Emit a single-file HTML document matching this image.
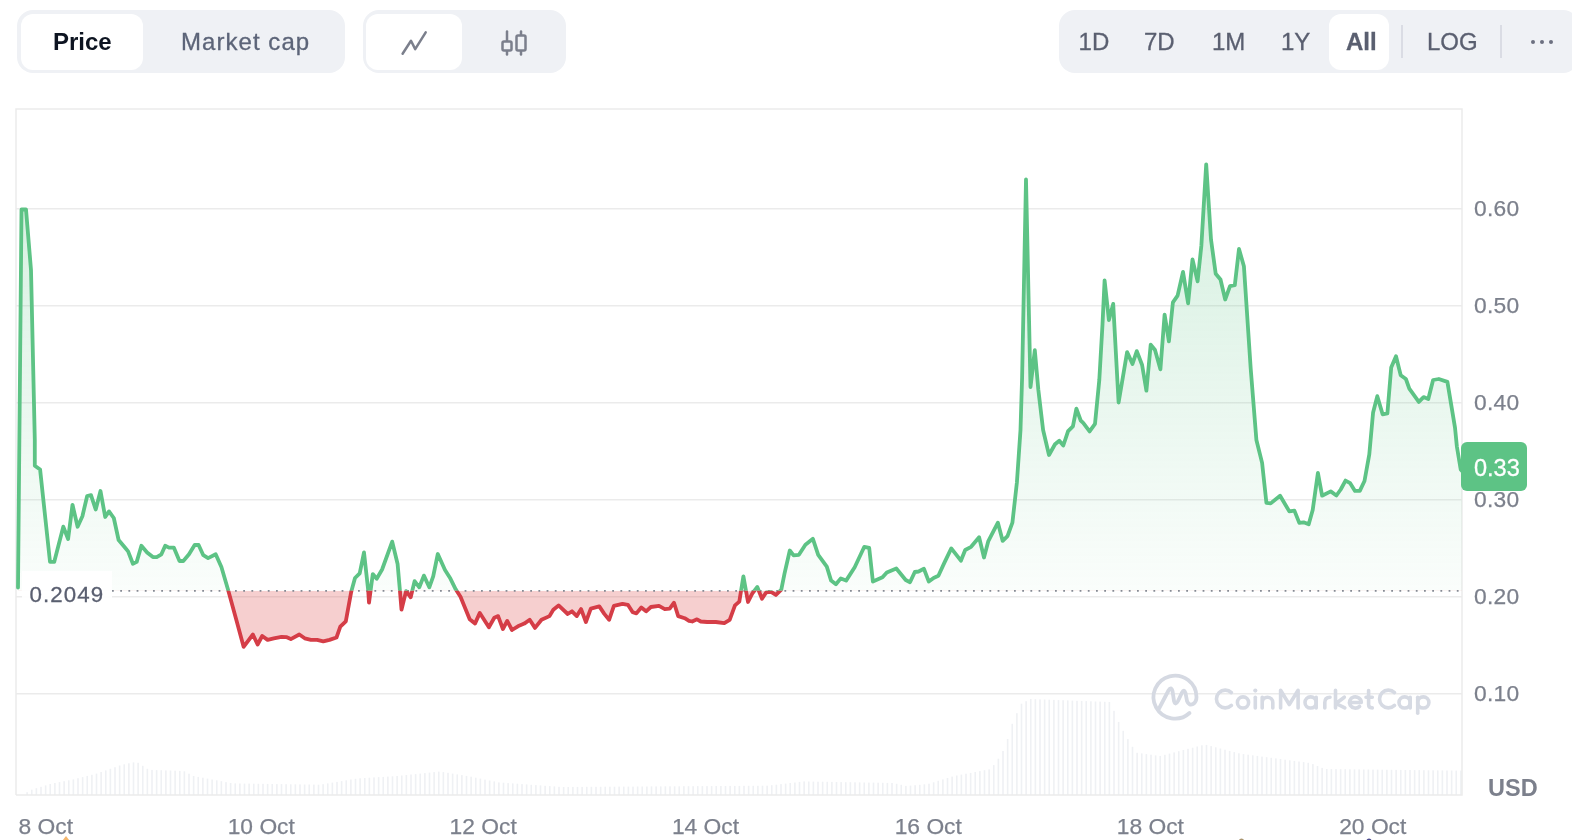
<!DOCTYPE html>
<html><head><meta charset="utf-8">
<style>
*{margin:0;padding:0;box-sizing:border-box}
html,body{width:1572px;height:840px;overflow:hidden;background:#fff;font-family:"Liberation Sans",sans-serif}
.pill{position:absolute;top:10px;height:63px;background:#eff1f5;border-radius:16px}
.btn{position:absolute;top:4px;height:56px;background:#fff;border-radius:12px}
.t{position:absolute;font-size:24px;line-height:1;color:#5c6478;white-space:nowrap;-webkit-text-stroke:0.3px #5c6478}
svg{position:absolute;left:0;top:0;will-change:transform}
.t{will-change:transform}
</style></head><body>
<div class="pill" style="left:17px;width:328px">
  <div class="btn" style="left:4px;width:122px"></div>
</div>
<div class="t" style="left:53px;top:30px;font-weight:bold;color:#0d1421;-webkit-text-stroke:0">Price</div>
<div class="t" style="left:181px;top:30px;letter-spacing:1.05px">Market cap</div>
<div class="pill" style="left:363px;width:203px">
  <div class="btn" style="left:3px;width:96px"></div>
</div>
<div class="pill" style="left:1059px;width:520px"></div>
<div class="btn" style="left:1329px;top:14px;width:60px"></div>
<svg width="1572" height="840" viewBox="0 0 1572 840">
<defs>
<linearGradient id="gg" gradientUnits="userSpaceOnUse" x1="0" y1="165" x2="0" y2="590.8">
<stop offset="0" stop-color="#5dc385" stop-opacity="0.26"/>
<stop offset="1" stop-color="#5dc385" stop-opacity="0.03"/>
</linearGradient>
<clipPath id="above"><rect x="0" y="0" width="1572" height="590.8"/></clipPath>
<clipPath id="below"><rect x="0" y="590.8" width="1572" height="300"/></clipPath>
</defs>
<!-- toolbar icons -->
<g fill="none" stroke="#7b7f8c" stroke-width="2.5" stroke-linecap="round" stroke-linejoin="round">
<polyline points="402.6,53.7 411,40.7 415.2,49.1 425.7,32.3"/>
<line x1="507" y1="31.5" x2="507" y2="54.5"/><rect x="502.5" y="41.5" width="9" height="9" rx="1.5" fill="#eff1f5"/>
<line x1="521" y1="31.5" x2="521" y2="54.5"/><rect x="516.5" y="35.5" width="9" height="15" rx="1.5" fill="#eff1f5"/>
</g>
<g font-size="24" fill="#5a5f70" stroke="#5a5f70" stroke-width="0.3">
<text x="1078.6" y="50">1D</text>
<text x="1144" y="50">7D</text>
<text x="1212" y="50">1M</text>
<text x="1281" y="50">1Y</text>
<text x="1346" y="50" font-weight="bold">All</text>
<text x="1427" y="50">LOG</text>
</g>
<g stroke="#d3d5de" stroke-width="1.5"><line x1="1402" y1="25" x2="1402" y2="58"/><line x1="1501" y1="25" x2="1501" y2="58"/></g>
<g fill="#6c7080"><circle cx="1533" cy="42" r="2"/><circle cx="1542" cy="42" r="2"/><circle cx="1551" cy="42" r="2"/></g>
<!-- volume -->
<g fill="#eff1f4">
<rect x="26.32" y="792.2" width="1.6" height="2.8"/>
<rect x="30.95" y="789.7" width="1.6" height="5.3"/>
<rect x="35.58" y="788.2" width="1.6" height="6.8"/>
<rect x="40.20" y="786.8" width="1.6" height="8.2"/>
<rect x="44.83" y="785.4" width="1.6" height="9.6"/>
<rect x="49.45" y="784.0" width="1.6" height="11.0"/>
<rect x="54.08" y="783.0" width="1.6" height="12.0"/>
<rect x="58.70" y="782.1" width="1.6" height="12.9"/>
<rect x="63.33" y="781.2" width="1.6" height="13.8"/>
<rect x="67.95" y="780.3" width="1.6" height="14.7"/>
<rect x="72.58" y="779.4" width="1.6" height="15.6"/>
<rect x="77.20" y="778.2" width="1.6" height="16.8"/>
<rect x="81.83" y="777.1" width="1.6" height="17.9"/>
<rect x="86.45" y="775.9" width="1.6" height="19.1"/>
<rect x="91.08" y="774.8" width="1.6" height="20.2"/>
<rect x="95.70" y="773.6" width="1.6" height="21.4"/>
<rect x="100.33" y="772.0" width="1.6" height="23.0"/>
<rect x="104.95" y="770.4" width="1.6" height="24.6"/>
<rect x="109.58" y="768.8" width="1.6" height="26.2"/>
<rect x="114.20" y="767.2" width="1.6" height="27.8"/>
<rect x="118.83" y="765.5" width="1.6" height="29.5"/>
<rect x="123.45" y="764.3" width="1.6" height="30.7"/>
<rect x="128.07" y="763.3" width="1.6" height="31.7"/>
<rect x="132.70" y="762.4" width="1.6" height="32.6"/>
<rect x="137.32" y="762.8" width="1.6" height="32.2"/>
<rect x="141.95" y="765.8" width="1.6" height="29.2"/>
<rect x="146.57" y="768.8" width="1.6" height="26.2"/>
<rect x="151.20" y="769.9" width="1.6" height="25.1"/>
<rect x="155.82" y="770.1" width="1.6" height="24.9"/>
<rect x="160.45" y="770.2" width="1.6" height="24.8"/>
<rect x="165.07" y="770.4" width="1.6" height="24.6"/>
<rect x="169.70" y="770.5" width="1.6" height="24.5"/>
<rect x="174.32" y="770.7" width="1.6" height="24.3"/>
<rect x="178.95" y="770.9" width="1.6" height="24.1"/>
<rect x="183.57" y="771.3" width="1.6" height="23.7"/>
<rect x="188.20" y="773.7" width="1.6" height="21.3"/>
<rect x="192.82" y="776.0" width="1.6" height="19.0"/>
<rect x="197.45" y="776.9" width="1.6" height="18.1"/>
<rect x="202.07" y="777.7" width="1.6" height="17.3"/>
<rect x="206.70" y="778.6" width="1.6" height="16.4"/>
<rect x="211.32" y="779.5" width="1.6" height="15.5"/>
<rect x="215.95" y="780.3" width="1.6" height="14.7"/>
<rect x="220.57" y="781.2" width="1.6" height="13.8"/>
<rect x="225.20" y="782.1" width="1.6" height="12.9"/>
<rect x="229.82" y="783.0" width="1.6" height="12.0"/>
<rect x="234.45" y="783.4" width="1.6" height="11.6"/>
<rect x="239.07" y="783.5" width="1.6" height="11.5"/>
<rect x="243.70" y="783.6" width="1.6" height="11.4"/>
<rect x="248.32" y="783.6" width="1.6" height="11.4"/>
<rect x="252.95" y="783.7" width="1.6" height="11.3"/>
<rect x="257.57" y="783.8" width="1.6" height="11.2"/>
<rect x="262.20" y="783.8" width="1.6" height="11.2"/>
<rect x="266.82" y="783.9" width="1.6" height="11.1"/>
<rect x="271.45" y="784.0" width="1.6" height="11.0"/>
<rect x="276.07" y="784.1" width="1.6" height="10.9"/>
<rect x="280.70" y="784.1" width="1.6" height="10.9"/>
<rect x="285.32" y="784.2" width="1.6" height="10.8"/>
<rect x="289.95" y="784.3" width="1.6" height="10.7"/>
<rect x="294.57" y="784.3" width="1.6" height="10.7"/>
<rect x="299.20" y="784.4" width="1.6" height="10.6"/>
<rect x="303.82" y="784.5" width="1.6" height="10.5"/>
<rect x="308.45" y="784.5" width="1.6" height="10.5"/>
<rect x="313.07" y="784.6" width="1.6" height="10.4"/>
<rect x="317.70" y="784.7" width="1.6" height="10.3"/>
<rect x="322.32" y="784.2" width="1.6" height="10.8"/>
<rect x="326.95" y="783.4" width="1.6" height="11.6"/>
<rect x="331.57" y="782.6" width="1.6" height="12.4"/>
<rect x="336.20" y="781.9" width="1.6" height="13.1"/>
<rect x="340.82" y="781.1" width="1.6" height="13.9"/>
<rect x="345.45" y="780.3" width="1.6" height="14.7"/>
<rect x="350.07" y="779.5" width="1.6" height="15.5"/>
<rect x="354.70" y="778.8" width="1.6" height="16.2"/>
<rect x="359.32" y="778.3" width="1.6" height="16.7"/>
<rect x="363.95" y="778.0" width="1.6" height="17.0"/>
<rect x="368.57" y="777.7" width="1.6" height="17.3"/>
<rect x="373.20" y="777.4" width="1.6" height="17.6"/>
<rect x="377.82" y="777.1" width="1.6" height="17.9"/>
<rect x="382.45" y="776.9" width="1.6" height="18.1"/>
<rect x="387.07" y="776.6" width="1.6" height="18.4"/>
<rect x="391.70" y="776.3" width="1.6" height="18.7"/>
<rect x="396.32" y="776.0" width="1.6" height="19.0"/>
<rect x="400.95" y="775.5" width="1.6" height="19.5"/>
<rect x="405.57" y="775.0" width="1.6" height="20.0"/>
<rect x="410.20" y="774.5" width="1.6" height="20.5"/>
<rect x="414.82" y="774.1" width="1.6" height="20.9"/>
<rect x="419.45" y="773.6" width="1.6" height="21.4"/>
<rect x="424.07" y="773.1" width="1.6" height="21.9"/>
<rect x="428.70" y="772.6" width="1.6" height="22.4"/>
<rect x="433.32" y="772.1" width="1.6" height="22.9"/>
<rect x="437.95" y="771.6" width="1.6" height="23.4"/>
<rect x="442.57" y="772.1" width="1.6" height="22.9"/>
<rect x="447.20" y="772.8" width="1.6" height="22.2"/>
<rect x="451.82" y="773.6" width="1.6" height="21.4"/>
<rect x="456.45" y="774.4" width="1.6" height="20.6"/>
<rect x="461.07" y="775.1" width="1.6" height="19.9"/>
<rect x="465.70" y="775.9" width="1.6" height="19.1"/>
<rect x="470.32" y="776.7" width="1.6" height="18.3"/>
<rect x="474.95" y="777.7" width="1.6" height="17.3"/>
<rect x="479.57" y="778.6" width="1.6" height="16.4"/>
<rect x="484.20" y="779.6" width="1.6" height="15.4"/>
<rect x="488.82" y="780.5" width="1.6" height="14.5"/>
<rect x="493.45" y="781.4" width="1.6" height="13.6"/>
<rect x="498.07" y="782.4" width="1.6" height="12.6"/>
<rect x="502.70" y="782.7" width="1.6" height="12.3"/>
<rect x="507.32" y="783.1" width="1.6" height="11.9"/>
<rect x="511.95" y="783.4" width="1.6" height="11.6"/>
<rect x="516.58" y="783.7" width="1.6" height="11.3"/>
<rect x="521.20" y="784.1" width="1.6" height="10.9"/>
<rect x="525.83" y="784.4" width="1.6" height="10.6"/>
<rect x="530.45" y="784.8" width="1.6" height="10.2"/>
<rect x="535.08" y="785.1" width="1.6" height="9.9"/>
<rect x="539.70" y="785.4" width="1.6" height="9.6"/>
<rect x="544.33" y="785.8" width="1.6" height="9.2"/>
<rect x="548.95" y="786.1" width="1.6" height="8.9"/>
<rect x="553.58" y="786.4" width="1.6" height="8.6"/>
<rect x="558.20" y="786.8" width="1.6" height="8.2"/>
<rect x="562.83" y="787.0" width="1.6" height="8.0"/>
<rect x="567.45" y="787.0" width="1.6" height="8.0"/>
<rect x="572.08" y="786.9" width="1.6" height="8.1"/>
<rect x="576.70" y="786.9" width="1.6" height="8.1"/>
<rect x="581.33" y="786.9" width="1.6" height="8.1"/>
<rect x="585.95" y="786.8" width="1.6" height="8.2"/>
<rect x="590.58" y="786.8" width="1.6" height="8.2"/>
<rect x="595.20" y="786.8" width="1.6" height="8.2"/>
<rect x="599.83" y="786.8" width="1.6" height="8.2"/>
<rect x="604.45" y="786.7" width="1.6" height="8.3"/>
<rect x="609.08" y="786.7" width="1.6" height="8.3"/>
<rect x="613.70" y="786.7" width="1.6" height="8.3"/>
<rect x="618.33" y="786.6" width="1.6" height="8.4"/>
<rect x="622.95" y="786.6" width="1.6" height="8.4"/>
<rect x="627.58" y="786.6" width="1.6" height="8.4"/>
<rect x="632.20" y="786.6" width="1.6" height="8.4"/>
<rect x="636.83" y="786.5" width="1.6" height="8.5"/>
<rect x="641.45" y="786.5" width="1.6" height="8.5"/>
<rect x="646.08" y="786.5" width="1.6" height="8.5"/>
<rect x="650.70" y="786.4" width="1.6" height="8.6"/>
<rect x="655.33" y="786.4" width="1.6" height="8.6"/>
<rect x="659.95" y="786.4" width="1.6" height="8.6"/>
<rect x="664.58" y="786.3" width="1.6" height="8.7"/>
<rect x="669.20" y="786.3" width="1.6" height="8.7"/>
<rect x="673.83" y="786.3" width="1.6" height="8.7"/>
<rect x="678.45" y="786.3" width="1.6" height="8.7"/>
<rect x="683.08" y="786.2" width="1.6" height="8.8"/>
<rect x="687.70" y="786.2" width="1.6" height="8.8"/>
<rect x="692.33" y="786.2" width="1.6" height="8.8"/>
<rect x="696.95" y="786.1" width="1.6" height="8.9"/>
<rect x="701.58" y="786.1" width="1.6" height="8.9"/>
<rect x="706.20" y="786.1" width="1.6" height="8.9"/>
<rect x="710.83" y="786.1" width="1.6" height="8.9"/>
<rect x="715.45" y="786.0" width="1.6" height="9.0"/>
<rect x="720.08" y="786.0" width="1.6" height="9.0"/>
<rect x="724.70" y="786.0" width="1.6" height="9.0"/>
<rect x="729.33" y="785.9" width="1.6" height="9.1"/>
<rect x="733.95" y="785.9" width="1.6" height="9.1"/>
<rect x="738.58" y="785.9" width="1.6" height="9.1"/>
<rect x="743.20" y="785.8" width="1.6" height="9.2"/>
<rect x="747.83" y="785.8" width="1.6" height="9.2"/>
<rect x="752.45" y="785.8" width="1.6" height="9.2"/>
<rect x="757.08" y="785.8" width="1.6" height="9.2"/>
<rect x="761.70" y="785.7" width="1.6" height="9.3"/>
<rect x="766.33" y="785.7" width="1.6" height="9.3"/>
<rect x="770.95" y="785.2" width="1.6" height="9.8"/>
<rect x="775.58" y="784.7" width="1.6" height="10.3"/>
<rect x="780.20" y="784.1" width="1.6" height="10.9"/>
<rect x="784.83" y="783.6" width="1.6" height="11.4"/>
<rect x="789.45" y="783.0" width="1.6" height="12.0"/>
<rect x="794.08" y="782.5" width="1.6" height="12.5"/>
<rect x="798.70" y="781.9" width="1.6" height="13.1"/>
<rect x="803.33" y="781.4" width="1.6" height="13.6"/>
<rect x="807.95" y="781.5" width="1.6" height="13.5"/>
<rect x="812.58" y="781.6" width="1.6" height="13.4"/>
<rect x="817.20" y="781.7" width="1.6" height="13.3"/>
<rect x="821.83" y="781.7" width="1.6" height="13.3"/>
<rect x="826.45" y="781.8" width="1.6" height="13.2"/>
<rect x="831.08" y="781.9" width="1.6" height="13.1"/>
<rect x="835.70" y="782.0" width="1.6" height="13.0"/>
<rect x="840.33" y="782.1" width="1.6" height="12.9"/>
<rect x="844.95" y="782.2" width="1.6" height="12.8"/>
<rect x="849.58" y="782.2" width="1.6" height="12.8"/>
<rect x="854.20" y="782.3" width="1.6" height="12.7"/>
<rect x="858.83" y="782.4" width="1.6" height="12.6"/>
<rect x="863.45" y="782.5" width="1.6" height="12.5"/>
<rect x="868.08" y="782.6" width="1.6" height="12.4"/>
<rect x="872.70" y="782.6" width="1.6" height="12.4"/>
<rect x="877.33" y="782.7" width="1.6" height="12.3"/>
<rect x="881.95" y="782.8" width="1.6" height="12.2"/>
<rect x="886.58" y="782.9" width="1.6" height="12.1"/>
<rect x="891.20" y="783.0" width="1.6" height="12.0"/>
<rect x="895.83" y="783.8" width="1.6" height="11.2"/>
<rect x="900.45" y="784.8" width="1.6" height="10.2"/>
<rect x="905.08" y="785.9" width="1.6" height="9.1"/>
<rect x="909.70" y="785.6" width="1.6" height="9.4"/>
<rect x="914.33" y="785.2" width="1.6" height="9.8"/>
<rect x="918.95" y="784.8" width="1.6" height="10.2"/>
<rect x="923.58" y="784.3" width="1.6" height="10.7"/>
<rect x="928.20" y="783.7" width="1.6" height="11.3"/>
<rect x="932.83" y="782.3" width="1.6" height="12.7"/>
<rect x="937.45" y="780.8" width="1.6" height="14.2"/>
<rect x="942.08" y="779.4" width="1.6" height="15.6"/>
<rect x="946.70" y="778.0" width="1.6" height="17.0"/>
<rect x="951.33" y="776.6" width="1.6" height="18.4"/>
<rect x="955.95" y="775.5" width="1.6" height="19.5"/>
<rect x="960.58" y="774.6" width="1.6" height="20.4"/>
<rect x="965.20" y="773.7" width="1.6" height="21.3"/>
<rect x="969.83" y="772.9" width="1.6" height="22.1"/>
<rect x="974.45" y="772.0" width="1.6" height="23.0"/>
<rect x="979.08" y="771.1" width="1.6" height="23.9"/>
<rect x="983.70" y="770.2" width="1.6" height="24.8"/>
<rect x="988.33" y="769.4" width="1.6" height="25.6"/>
<rect x="992.95" y="765.1" width="1.6" height="29.9"/>
<rect x="997.58" y="758.7" width="1.6" height="36.3"/>
<rect x="1002.20" y="751.0" width="1.6" height="44.0"/>
<rect x="1006.83" y="739.0" width="1.6" height="56.0"/>
<rect x="1011.45" y="723.8" width="1.6" height="71.2"/>
<rect x="1016.08" y="713.2" width="1.6" height="81.8"/>
<rect x="1020.70" y="703.7" width="1.6" height="91.3"/>
<rect x="1025.33" y="701.2" width="1.6" height="93.8"/>
<rect x="1029.95" y="699.0" width="1.6" height="96.0"/>
<rect x="1034.58" y="699.2" width="1.6" height="95.8"/>
<rect x="1039.20" y="699.4" width="1.6" height="95.6"/>
<rect x="1043.83" y="699.5" width="1.6" height="95.5"/>
<rect x="1048.45" y="699.7" width="1.6" height="95.3"/>
<rect x="1053.08" y="699.9" width="1.6" height="95.1"/>
<rect x="1057.70" y="700.1" width="1.6" height="94.9"/>
<rect x="1062.33" y="700.2" width="1.6" height="94.8"/>
<rect x="1066.95" y="700.4" width="1.6" height="94.6"/>
<rect x="1071.58" y="700.6" width="1.6" height="94.4"/>
<rect x="1076.20" y="700.8" width="1.6" height="94.2"/>
<rect x="1080.83" y="700.9" width="1.6" height="94.1"/>
<rect x="1085.45" y="701.1" width="1.6" height="93.9"/>
<rect x="1090.08" y="701.3" width="1.6" height="93.7"/>
<rect x="1094.70" y="701.5" width="1.6" height="93.5"/>
<rect x="1099.33" y="701.6" width="1.6" height="93.4"/>
<rect x="1103.95" y="701.8" width="1.6" height="93.2"/>
<rect x="1108.58" y="702.0" width="1.6" height="93.0"/>
<rect x="1113.20" y="710.8" width="1.6" height="84.2"/>
<rect x="1117.83" y="721.9" width="1.6" height="73.1"/>
<rect x="1122.45" y="730.8" width="1.6" height="64.2"/>
<rect x="1127.08" y="739.1" width="1.6" height="55.9"/>
<rect x="1131.70" y="746.8" width="1.6" height="48.2"/>
<rect x="1136.33" y="752.8" width="1.6" height="42.2"/>
<rect x="1140.95" y="753.4" width="1.6" height="41.6"/>
<rect x="1145.58" y="754.1" width="1.6" height="40.9"/>
<rect x="1150.20" y="754.7" width="1.6" height="40.3"/>
<rect x="1154.83" y="755.4" width="1.6" height="39.6"/>
<rect x="1159.45" y="755.9" width="1.6" height="39.1"/>
<rect x="1164.08" y="754.8" width="1.6" height="40.2"/>
<rect x="1168.70" y="753.6" width="1.6" height="41.4"/>
<rect x="1173.33" y="752.4" width="1.6" height="42.6"/>
<rect x="1177.95" y="751.2" width="1.6" height="43.8"/>
<rect x="1182.58" y="750.0" width="1.6" height="45.0"/>
<rect x="1187.20" y="748.8" width="1.6" height="46.2"/>
<rect x="1191.83" y="747.7" width="1.6" height="47.3"/>
<rect x="1196.45" y="746.5" width="1.6" height="48.5"/>
<rect x="1201.08" y="745.3" width="1.6" height="49.7"/>
<rect x="1205.70" y="744.9" width="1.6" height="50.1"/>
<rect x="1210.33" y="746.1" width="1.6" height="48.9"/>
<rect x="1214.95" y="747.3" width="1.6" height="47.7"/>
<rect x="1219.58" y="748.5" width="1.6" height="46.5"/>
<rect x="1224.20" y="749.7" width="1.6" height="45.3"/>
<rect x="1228.83" y="750.9" width="1.6" height="44.1"/>
<rect x="1233.45" y="752.1" width="1.6" height="42.9"/>
<rect x="1238.08" y="753.3" width="1.6" height="41.7"/>
<rect x="1242.70" y="754.1" width="1.6" height="40.9"/>
<rect x="1247.33" y="754.7" width="1.6" height="40.3"/>
<rect x="1251.95" y="755.3" width="1.6" height="39.7"/>
<rect x="1256.58" y="755.9" width="1.6" height="39.1"/>
<rect x="1261.20" y="756.6" width="1.6" height="38.4"/>
<rect x="1265.83" y="757.2" width="1.6" height="37.8"/>
<rect x="1270.45" y="757.8" width="1.6" height="37.2"/>
<rect x="1275.08" y="758.4" width="1.6" height="36.6"/>
<rect x="1279.70" y="759.0" width="1.6" height="36.0"/>
<rect x="1284.33" y="759.7" width="1.6" height="35.3"/>
<rect x="1288.95" y="760.3" width="1.6" height="34.7"/>
<rect x="1293.58" y="760.9" width="1.6" height="34.1"/>
<rect x="1298.20" y="761.5" width="1.6" height="33.5"/>
<rect x="1302.83" y="762.1" width="1.6" height="32.9"/>
<rect x="1307.45" y="762.8" width="1.6" height="32.2"/>
<rect x="1312.08" y="764.1" width="1.6" height="30.9"/>
<rect x="1316.70" y="766.0" width="1.6" height="29.0"/>
<rect x="1321.33" y="767.9" width="1.6" height="27.1"/>
<rect x="1325.95" y="769.0" width="1.6" height="26.0"/>
<rect x="1330.58" y="769.1" width="1.6" height="25.9"/>
<rect x="1335.20" y="769.1" width="1.6" height="25.9"/>
<rect x="1339.83" y="769.2" width="1.6" height="25.8"/>
<rect x="1344.45" y="769.2" width="1.6" height="25.8"/>
<rect x="1349.08" y="769.3" width="1.6" height="25.7"/>
<rect x="1353.70" y="769.4" width="1.6" height="25.6"/>
<rect x="1358.33" y="769.4" width="1.6" height="25.6"/>
<rect x="1362.95" y="769.5" width="1.6" height="25.5"/>
<rect x="1367.58" y="769.5" width="1.6" height="25.5"/>
<rect x="1372.20" y="769.6" width="1.6" height="25.4"/>
<rect x="1376.83" y="769.6" width="1.6" height="25.4"/>
<rect x="1381.45" y="769.7" width="1.6" height="25.3"/>
<rect x="1386.08" y="769.8" width="1.6" height="25.2"/>
<rect x="1390.70" y="769.8" width="1.6" height="25.2"/>
<rect x="1395.33" y="769.9" width="1.6" height="25.1"/>
<rect x="1399.95" y="769.9" width="1.6" height="25.1"/>
<rect x="1404.58" y="770.0" width="1.6" height="25.0"/>
<rect x="1409.20" y="770.0" width="1.6" height="25.0"/>
<rect x="1413.83" y="770.1" width="1.6" height="24.9"/>
<rect x="1418.45" y="770.1" width="1.6" height="24.9"/>
<rect x="1423.08" y="770.2" width="1.6" height="24.8"/>
<rect x="1427.70" y="770.3" width="1.6" height="24.7"/>
<rect x="1432.33" y="770.3" width="1.6" height="24.7"/>
<rect x="1436.95" y="770.4" width="1.6" height="24.6"/>
<rect x="1441.58" y="770.4" width="1.6" height="24.6"/>
<rect x="1446.20" y="770.5" width="1.6" height="24.5"/>
<rect x="1450.83" y="770.5" width="1.6" height="24.5"/>
<rect x="1455.45" y="770.6" width="1.6" height="24.4"/>
<rect x="1460.08" y="770.6" width="1.6" height="24.4"/>
</g>
<!-- frame & grid -->
<g stroke="#ebebeb" stroke-width="1.5" fill="none">
<path d="M16 795 V109 H1462 V795 H16"/>
<line x1="16" y1="208.7" x2="1462" y2="208.7"/>
<line x1="16" y1="305.7" x2="1462" y2="305.7"/>
<line x1="16" y1="402.7" x2="1462" y2="402.7"/>
<line x1="16" y1="499.7" x2="1462" y2="499.7"/>
<line x1="16" y1="596.7" x2="1462" y2="596.7"/>
<line x1="16" y1="693.7" x2="1462" y2="693.7"/>
</g>
<!-- watermark -->
<g fill="none" stroke="#d5d9e2" stroke-width="3.8" stroke-linecap="round" stroke-linejoin="round">
<path d="M1158.5 709.5 L1168.5 690.5 Q1171 686 1172.5 691 L1174 701 Q1175.5 706 1178 701 L1182 692.5 Q1184 688.5 1185.5 693 L1187 701 Q1189 706 1193 704 Q1196.5 702 1196.5 697 A21.5 21.5 0 1 0 1189.5 713"/>
</g>
<g fill="none" stroke="#d6dae3" stroke-width="3.6" stroke-linecap="round" stroke-linejoin="round">
<path d="M1231.4 692.6 A8.85 8.85 0 1 0 1231.4 705.4"/>
<circle cx="1243" cy="702.45" r="5.6"/>
<path d="M1255.3 697.2 V707.9"/>
<path d="M1262.2 697.2 V707.9 M1262.2 702.6 A5.3 5.3 0 0 1 1272.8 702.6 V707.9"/>
<path d="M1280.6 707.9 V690.3 L1289.3 704.5 L1298.1 690.3 V707.9"/>
<circle cx="1310.6" cy="702.45" r="5.6"/><path d="M1316.2 697.2 V707.9"/>
<path d="M1324.8 707.9 V702.5 Q1324.8 697.2 1330 697.2"/>
<path d="M1335.5 690.3 V707.9 M1344.3 697.2 L1336 703.5 L1344.8 707.9"/>
<path d="M1349.4 702.45 H1361.3 A5.95 5.6 0 1 0 1359.6 706.4"/>
<path d="M1368.6 690.5 V704.5 Q1368.6 707.9 1372.3 707.9 M1366 697.2 H1372.3"/>
<path d="M1394.5 692.6 A8.85 8.85 0 1 0 1394.5 705.4"/>
<circle cx="1404.6" cy="702.45" r="5.6"/><path d="M1410.2 697.2 V707.9"/>
<circle cx="1423.3" cy="702.45" r="5.6"/><path d="M1417.7 697.2 V713.2"/>
</g>
<circle cx="1255.3" cy="690.6" r="2.1" fill="#d6dae3"/>
<!-- fills -->
<path d="M18 587.5 L21.5 209.5 L26 209.5 L31 270 L34.8 440 L34.8 465.7 L40.1 469.5 L50 561.9 L54.2 561.9 L63.3 526.7 L68.1 539 L72.5 504.8 L77.6 526.7 L82.4 516.2 L87.1 496.2 L91 495.2 L95.7 509.5 L100.5 491 L105.2 517 L109 511.4 L113.8 518 L118.6 540 L124.3 546.7 L128.1 551.4 L132.9 563.8 L136.7 561.9 L141.4 545.7 L147.1 552.4 L152.9 557.1 L156.7 557.1 L161.4 554.3 L165.2 545.7 L169 547.6 L173.8 547.6 L179.5 561 L183.3 561 L189 554.3 L194.8 544.8 L198.6 545 L203.3 555.2 L208.1 558.1 L215.7 554.3 L221.4 567 L228.2 590.3 L236.7 621.3 L243.6 646.8 L252.9 634.5 L257.6 644.5 L262.2 636 L267.6 639.9 L273.8 638.3 L281.5 636.8 L286.2 637.1 L290.8 639.1 L299.3 634.5 L304.7 638.3 L310.9 639.9 L317.1 639.9 L323.3 641.4 L329.5 639.9 L336.5 637.5 L340.3 626.7 L345.8 621.3 L351.2 591.9 L355 578 L359.7 573.3 L364 552.4 L368.2 590.3 L369 602.7 L372.8 574.1 L376.7 578.7 L382.1 569.5 L392.2 541.6 L397.6 564 L399.9 590.3 L401.5 609.7 L406.1 591.1 L410.7 597.3 L414.6 581.1 L419.3 587.3 L423.9 575.6 L429.3 587.3 L433.2 576.4 L437.8 554 L445 570 L450.4 578.6 L455.7 589.3 L460.5 596.8 L469.7 619.3 L475 623.6 L479.8 612.9 L488.9 627.3 L494.3 617.7 L498.1 616.1 L502.9 629 L507.2 620.9 L512 630 L517.9 626.3 L524.3 623.6 L529.7 619.8 L535 627.9 L541.5 619.8 L549.5 616.1 L553.3 609.7 L558.6 605.4 L567.7 614 L572 611.3 L576.8 616.1 L581.1 609.1 L585.9 622 L590.8 608.6 L599.3 606.4 L604.3 613.9 L609.1 619.8 L613.9 605.9 L622.5 603.8 L627.9 604.8 L632.7 612.3 L636.4 613.4 L641.3 607.5 L646.1 611.3 L650.9 607 L659 605.9 L664.8 609.1 L669.7 608.6 L674 602.7 L678.2 616.1 L684.7 618.2 L689 620.9 L692.2 621.5 L697 619.3 L700.8 621.5 L707.2 622 L715.8 622 L724.3 623.1 L729.7 619.8 L735 605.4 L739.3 601.6 L743.4 576.4 L748 602 L752.2 593.6 L757.3 587 L762 598.8 L766.3 592.3 L771.1 591.8 L775.9 595 L781.3 589.7 L784.5 573.6 L789.8 550.5 L793.6 555.4 L798.9 554.8 L805.4 544.7 L812.9 538.8 L818.2 554.8 L826.8 566.6 L831.1 580.6 L835.9 584.3 L840.8 578.4 L846.1 580.6 L854.7 567.2 L864.3 546.8 L869.2 547.9 L872.9 581.6 L882.5 577.3 L886.8 572.5 L896.3 568.5 L905.7 580 L910 582.2 L914.8 572 L918.6 571.5 L923.9 568.8 L928.8 581.6 L933.6 577.9 L938.4 575.7 L944.3 562.9 L951.3 548.4 L960.9 560.7 L965.2 550 L971.1 546.8 L979.1 537.2 L984 557.5 L988.2 541.4 L997.9 522.7 L1002.7 540.9 L1007.5 536.1 L1012.4 522.7 L1016.9 482.4 L1020.5 430 L1022.1 377.6 L1026 179.5 L1030.5 387 L1034.8 350.2 L1038.3 389.5 L1043.1 430 L1049 455 L1055 444.3 L1059.3 440.7 L1063.3 445.5 L1068.1 431.2 L1072.9 426.4 L1076.4 408.6 L1080.7 420.5 L1083.2 422.8 L1089.6 431.4 L1095 423.9 L1099.3 380 L1102.5 324.3 L1104.6 280.4 L1108.9 320 L1113.2 303.9 L1118.6 402.5 L1127.1 352.1 L1132.5 363.9 L1136.8 351.1 L1142.1 365 L1146.4 390.7 L1150.7 344.6 L1155 350 L1160.4 369.3 L1164.6 314.6 L1168.9 341.4 L1172.9 302.4 L1177.6 295.7 L1183 271.9 L1188.1 303.3 L1192.5 259.5 L1197.6 281.4 L1201.4 245.2 L1206.2 164.3 L1211 239.5 L1215.7 273.8 L1220.5 279.5 L1225.2 299.5 L1230 286.2 L1234.8 285.2 L1239 249 L1243.9 266.2 L1250.7 368.6 L1256.4 440 L1262.1 462.9 L1266.4 502.9 L1270.7 503.4 L1280.1 495.7 L1289.3 511.4 L1294.4 510.6 L1299.3 522.9 L1303.6 522.3 L1308.7 524.3 L1312.7 510 L1317.9 472.9 L1322.1 495.7 L1330.7 491.4 L1336.4 495.5 L1340.7 489.5 L1345.5 480.6 L1350.2 483.2 L1355 490.9 L1359.8 490.9 L1364.5 481 L1369.3 454.3 L1373.1 412.4 L1377.3 396.2 L1382.6 414.3 L1387.4 413.3 L1391.2 367.6 L1396 356.2 L1400.7 375.2 L1405.9 379 L1409.3 388.6 L1418.8 401.9 L1423.6 397.1 L1428.3 399 L1433.1 380 L1438.8 379 L1447.4 381.9 L1455 427.6 L1456.9 446.7 L1460.7 469.5 L1462 471 L1462 590.8 L18 590.8 Z" fill="url(#gg)" clip-path="url(#above)"/>
<path d="M18 587.5 L21.5 209.5 L26 209.5 L31 270 L34.8 440 L34.8 465.7 L40.1 469.5 L50 561.9 L54.2 561.9 L63.3 526.7 L68.1 539 L72.5 504.8 L77.6 526.7 L82.4 516.2 L87.1 496.2 L91 495.2 L95.7 509.5 L100.5 491 L105.2 517 L109 511.4 L113.8 518 L118.6 540 L124.3 546.7 L128.1 551.4 L132.9 563.8 L136.7 561.9 L141.4 545.7 L147.1 552.4 L152.9 557.1 L156.7 557.1 L161.4 554.3 L165.2 545.7 L169 547.6 L173.8 547.6 L179.5 561 L183.3 561 L189 554.3 L194.8 544.8 L198.6 545 L203.3 555.2 L208.1 558.1 L215.7 554.3 L221.4 567 L228.2 590.3 L236.7 621.3 L243.6 646.8 L252.9 634.5 L257.6 644.5 L262.2 636 L267.6 639.9 L273.8 638.3 L281.5 636.8 L286.2 637.1 L290.8 639.1 L299.3 634.5 L304.7 638.3 L310.9 639.9 L317.1 639.9 L323.3 641.4 L329.5 639.9 L336.5 637.5 L340.3 626.7 L345.8 621.3 L351.2 591.9 L355 578 L359.7 573.3 L364 552.4 L368.2 590.3 L369 602.7 L372.8 574.1 L376.7 578.7 L382.1 569.5 L392.2 541.6 L397.6 564 L399.9 590.3 L401.5 609.7 L406.1 591.1 L410.7 597.3 L414.6 581.1 L419.3 587.3 L423.9 575.6 L429.3 587.3 L433.2 576.4 L437.8 554 L445 570 L450.4 578.6 L455.7 589.3 L460.5 596.8 L469.7 619.3 L475 623.6 L479.8 612.9 L488.9 627.3 L494.3 617.7 L498.1 616.1 L502.9 629 L507.2 620.9 L512 630 L517.9 626.3 L524.3 623.6 L529.7 619.8 L535 627.9 L541.5 619.8 L549.5 616.1 L553.3 609.7 L558.6 605.4 L567.7 614 L572 611.3 L576.8 616.1 L581.1 609.1 L585.9 622 L590.8 608.6 L599.3 606.4 L604.3 613.9 L609.1 619.8 L613.9 605.9 L622.5 603.8 L627.9 604.8 L632.7 612.3 L636.4 613.4 L641.3 607.5 L646.1 611.3 L650.9 607 L659 605.9 L664.8 609.1 L669.7 608.6 L674 602.7 L678.2 616.1 L684.7 618.2 L689 620.9 L692.2 621.5 L697 619.3 L700.8 621.5 L707.2 622 L715.8 622 L724.3 623.1 L729.7 619.8 L735 605.4 L739.3 601.6 L743.4 576.4 L748 602 L752.2 593.6 L757.3 587 L762 598.8 L766.3 592.3 L771.1 591.8 L775.9 595 L781.3 589.7 L784.5 573.6 L789.8 550.5 L793.6 555.4 L798.9 554.8 L805.4 544.7 L812.9 538.8 L818.2 554.8 L826.8 566.6 L831.1 580.6 L835.9 584.3 L840.8 578.4 L846.1 580.6 L854.7 567.2 L864.3 546.8 L869.2 547.9 L872.9 581.6 L882.5 577.3 L886.8 572.5 L896.3 568.5 L905.7 580 L910 582.2 L914.8 572 L918.6 571.5 L923.9 568.8 L928.8 581.6 L933.6 577.9 L938.4 575.7 L944.3 562.9 L951.3 548.4 L960.9 560.7 L965.2 550 L971.1 546.8 L979.1 537.2 L984 557.5 L988.2 541.4 L997.9 522.7 L1002.7 540.9 L1007.5 536.1 L1012.4 522.7 L1016.9 482.4 L1020.5 430 L1022.1 377.6 L1026 179.5 L1030.5 387 L1034.8 350.2 L1038.3 389.5 L1043.1 430 L1049 455 L1055 444.3 L1059.3 440.7 L1063.3 445.5 L1068.1 431.2 L1072.9 426.4 L1076.4 408.6 L1080.7 420.5 L1083.2 422.8 L1089.6 431.4 L1095 423.9 L1099.3 380 L1102.5 324.3 L1104.6 280.4 L1108.9 320 L1113.2 303.9 L1118.6 402.5 L1127.1 352.1 L1132.5 363.9 L1136.8 351.1 L1142.1 365 L1146.4 390.7 L1150.7 344.6 L1155 350 L1160.4 369.3 L1164.6 314.6 L1168.9 341.4 L1172.9 302.4 L1177.6 295.7 L1183 271.9 L1188.1 303.3 L1192.5 259.5 L1197.6 281.4 L1201.4 245.2 L1206.2 164.3 L1211 239.5 L1215.7 273.8 L1220.5 279.5 L1225.2 299.5 L1230 286.2 L1234.8 285.2 L1239 249 L1243.9 266.2 L1250.7 368.6 L1256.4 440 L1262.1 462.9 L1266.4 502.9 L1270.7 503.4 L1280.1 495.7 L1289.3 511.4 L1294.4 510.6 L1299.3 522.9 L1303.6 522.3 L1308.7 524.3 L1312.7 510 L1317.9 472.9 L1322.1 495.7 L1330.7 491.4 L1336.4 495.5 L1340.7 489.5 L1345.5 480.6 L1350.2 483.2 L1355 490.9 L1359.8 490.9 L1364.5 481 L1369.3 454.3 L1373.1 412.4 L1377.3 396.2 L1382.6 414.3 L1387.4 413.3 L1391.2 367.6 L1396 356.2 L1400.7 375.2 L1405.9 379 L1409.3 388.6 L1418.8 401.9 L1423.6 397.1 L1428.3 399 L1433.1 380 L1438.8 379 L1447.4 381.9 L1455 427.6 L1456.9 446.7 L1460.7 469.5 L1462 471 L1462 590.8 L18 590.8 Z" fill="rgba(218,62,62,0.25)" clip-path="url(#below)"/>
<!-- baseline dotted -->
<line x1="112" y1="590.8" x2="1462" y2="590.8" stroke="#858a94" stroke-width="1.8" stroke-dasharray="1.8 6.4"/>
<!-- line -->
<path d="M18 587.5 L21.5 209.5 L26 209.5 L31 270 L34.8 440 L34.8 465.7 L40.1 469.5 L50 561.9 L54.2 561.9 L63.3 526.7 L68.1 539 L72.5 504.8 L77.6 526.7 L82.4 516.2 L87.1 496.2 L91 495.2 L95.7 509.5 L100.5 491 L105.2 517 L109 511.4 L113.8 518 L118.6 540 L124.3 546.7 L128.1 551.4 L132.9 563.8 L136.7 561.9 L141.4 545.7 L147.1 552.4 L152.9 557.1 L156.7 557.1 L161.4 554.3 L165.2 545.7 L169 547.6 L173.8 547.6 L179.5 561 L183.3 561 L189 554.3 L194.8 544.8 L198.6 545 L203.3 555.2 L208.1 558.1 L215.7 554.3 L221.4 567 L228.2 590.3 L236.7 621.3 L243.6 646.8 L252.9 634.5 L257.6 644.5 L262.2 636 L267.6 639.9 L273.8 638.3 L281.5 636.8 L286.2 637.1 L290.8 639.1 L299.3 634.5 L304.7 638.3 L310.9 639.9 L317.1 639.9 L323.3 641.4 L329.5 639.9 L336.5 637.5 L340.3 626.7 L345.8 621.3 L351.2 591.9 L355 578 L359.7 573.3 L364 552.4 L368.2 590.3 L369 602.7 L372.8 574.1 L376.7 578.7 L382.1 569.5 L392.2 541.6 L397.6 564 L399.9 590.3 L401.5 609.7 L406.1 591.1 L410.7 597.3 L414.6 581.1 L419.3 587.3 L423.9 575.6 L429.3 587.3 L433.2 576.4 L437.8 554 L445 570 L450.4 578.6 L455.7 589.3 L460.5 596.8 L469.7 619.3 L475 623.6 L479.8 612.9 L488.9 627.3 L494.3 617.7 L498.1 616.1 L502.9 629 L507.2 620.9 L512 630 L517.9 626.3 L524.3 623.6 L529.7 619.8 L535 627.9 L541.5 619.8 L549.5 616.1 L553.3 609.7 L558.6 605.4 L567.7 614 L572 611.3 L576.8 616.1 L581.1 609.1 L585.9 622 L590.8 608.6 L599.3 606.4 L604.3 613.9 L609.1 619.8 L613.9 605.9 L622.5 603.8 L627.9 604.8 L632.7 612.3 L636.4 613.4 L641.3 607.5 L646.1 611.3 L650.9 607 L659 605.9 L664.8 609.1 L669.7 608.6 L674 602.7 L678.2 616.1 L684.7 618.2 L689 620.9 L692.2 621.5 L697 619.3 L700.8 621.5 L707.2 622 L715.8 622 L724.3 623.1 L729.7 619.8 L735 605.4 L739.3 601.6 L743.4 576.4 L748 602 L752.2 593.6 L757.3 587 L762 598.8 L766.3 592.3 L771.1 591.8 L775.9 595 L781.3 589.7 L784.5 573.6 L789.8 550.5 L793.6 555.4 L798.9 554.8 L805.4 544.7 L812.9 538.8 L818.2 554.8 L826.8 566.6 L831.1 580.6 L835.9 584.3 L840.8 578.4 L846.1 580.6 L854.7 567.2 L864.3 546.8 L869.2 547.9 L872.9 581.6 L882.5 577.3 L886.8 572.5 L896.3 568.5 L905.7 580 L910 582.2 L914.8 572 L918.6 571.5 L923.9 568.8 L928.8 581.6 L933.6 577.9 L938.4 575.7 L944.3 562.9 L951.3 548.4 L960.9 560.7 L965.2 550 L971.1 546.8 L979.1 537.2 L984 557.5 L988.2 541.4 L997.9 522.7 L1002.7 540.9 L1007.5 536.1 L1012.4 522.7 L1016.9 482.4 L1020.5 430 L1022.1 377.6 L1026 179.5 L1030.5 387 L1034.8 350.2 L1038.3 389.5 L1043.1 430 L1049 455 L1055 444.3 L1059.3 440.7 L1063.3 445.5 L1068.1 431.2 L1072.9 426.4 L1076.4 408.6 L1080.7 420.5 L1083.2 422.8 L1089.6 431.4 L1095 423.9 L1099.3 380 L1102.5 324.3 L1104.6 280.4 L1108.9 320 L1113.2 303.9 L1118.6 402.5 L1127.1 352.1 L1132.5 363.9 L1136.8 351.1 L1142.1 365 L1146.4 390.7 L1150.7 344.6 L1155 350 L1160.4 369.3 L1164.6 314.6 L1168.9 341.4 L1172.9 302.4 L1177.6 295.7 L1183 271.9 L1188.1 303.3 L1192.5 259.5 L1197.6 281.4 L1201.4 245.2 L1206.2 164.3 L1211 239.5 L1215.7 273.8 L1220.5 279.5 L1225.2 299.5 L1230 286.2 L1234.8 285.2 L1239 249 L1243.9 266.2 L1250.7 368.6 L1256.4 440 L1262.1 462.9 L1266.4 502.9 L1270.7 503.4 L1280.1 495.7 L1289.3 511.4 L1294.4 510.6 L1299.3 522.9 L1303.6 522.3 L1308.7 524.3 L1312.7 510 L1317.9 472.9 L1322.1 495.7 L1330.7 491.4 L1336.4 495.5 L1340.7 489.5 L1345.5 480.6 L1350.2 483.2 L1355 490.9 L1359.8 490.9 L1364.5 481 L1369.3 454.3 L1373.1 412.4 L1377.3 396.2 L1382.6 414.3 L1387.4 413.3 L1391.2 367.6 L1396 356.2 L1400.7 375.2 L1405.9 379 L1409.3 388.6 L1418.8 401.9 L1423.6 397.1 L1428.3 399 L1433.1 380 L1438.8 379 L1447.4 381.9 L1455 427.6 L1456.9 446.7 L1460.7 469.5 L1462 471" fill="none" stroke="#5dc385" stroke-width="3.8" stroke-linejoin="round" stroke-linecap="round" clip-path="url(#above)"/>
<path d="M18 587.5 L21.5 209.5 L26 209.5 L31 270 L34.8 440 L34.8 465.7 L40.1 469.5 L50 561.9 L54.2 561.9 L63.3 526.7 L68.1 539 L72.5 504.8 L77.6 526.7 L82.4 516.2 L87.1 496.2 L91 495.2 L95.7 509.5 L100.5 491 L105.2 517 L109 511.4 L113.8 518 L118.6 540 L124.3 546.7 L128.1 551.4 L132.9 563.8 L136.7 561.9 L141.4 545.7 L147.1 552.4 L152.9 557.1 L156.7 557.1 L161.4 554.3 L165.2 545.7 L169 547.6 L173.8 547.6 L179.5 561 L183.3 561 L189 554.3 L194.8 544.8 L198.6 545 L203.3 555.2 L208.1 558.1 L215.7 554.3 L221.4 567 L228.2 590.3 L236.7 621.3 L243.6 646.8 L252.9 634.5 L257.6 644.5 L262.2 636 L267.6 639.9 L273.8 638.3 L281.5 636.8 L286.2 637.1 L290.8 639.1 L299.3 634.5 L304.7 638.3 L310.9 639.9 L317.1 639.9 L323.3 641.4 L329.5 639.9 L336.5 637.5 L340.3 626.7 L345.8 621.3 L351.2 591.9 L355 578 L359.7 573.3 L364 552.4 L368.2 590.3 L369 602.7 L372.8 574.1 L376.7 578.7 L382.1 569.5 L392.2 541.6 L397.6 564 L399.9 590.3 L401.5 609.7 L406.1 591.1 L410.7 597.3 L414.6 581.1 L419.3 587.3 L423.9 575.6 L429.3 587.3 L433.2 576.4 L437.8 554 L445 570 L450.4 578.6 L455.7 589.3 L460.5 596.8 L469.7 619.3 L475 623.6 L479.8 612.9 L488.9 627.3 L494.3 617.7 L498.1 616.1 L502.9 629 L507.2 620.9 L512 630 L517.9 626.3 L524.3 623.6 L529.7 619.8 L535 627.9 L541.5 619.8 L549.5 616.1 L553.3 609.7 L558.6 605.4 L567.7 614 L572 611.3 L576.8 616.1 L581.1 609.1 L585.9 622 L590.8 608.6 L599.3 606.4 L604.3 613.9 L609.1 619.8 L613.9 605.9 L622.5 603.8 L627.9 604.8 L632.7 612.3 L636.4 613.4 L641.3 607.5 L646.1 611.3 L650.9 607 L659 605.9 L664.8 609.1 L669.7 608.6 L674 602.7 L678.2 616.1 L684.7 618.2 L689 620.9 L692.2 621.5 L697 619.3 L700.8 621.5 L707.2 622 L715.8 622 L724.3 623.1 L729.7 619.8 L735 605.4 L739.3 601.6 L743.4 576.4 L748 602 L752.2 593.6 L757.3 587 L762 598.8 L766.3 592.3 L771.1 591.8 L775.9 595 L781.3 589.7 L784.5 573.6 L789.8 550.5 L793.6 555.4 L798.9 554.8 L805.4 544.7 L812.9 538.8 L818.2 554.8 L826.8 566.6 L831.1 580.6 L835.9 584.3 L840.8 578.4 L846.1 580.6 L854.7 567.2 L864.3 546.8 L869.2 547.9 L872.9 581.6 L882.5 577.3 L886.8 572.5 L896.3 568.5 L905.7 580 L910 582.2 L914.8 572 L918.6 571.5 L923.9 568.8 L928.8 581.6 L933.6 577.9 L938.4 575.7 L944.3 562.9 L951.3 548.4 L960.9 560.7 L965.2 550 L971.1 546.8 L979.1 537.2 L984 557.5 L988.2 541.4 L997.9 522.7 L1002.7 540.9 L1007.5 536.1 L1012.4 522.7 L1016.9 482.4 L1020.5 430 L1022.1 377.6 L1026 179.5 L1030.5 387 L1034.8 350.2 L1038.3 389.5 L1043.1 430 L1049 455 L1055 444.3 L1059.3 440.7 L1063.3 445.5 L1068.1 431.2 L1072.9 426.4 L1076.4 408.6 L1080.7 420.5 L1083.2 422.8 L1089.6 431.4 L1095 423.9 L1099.3 380 L1102.5 324.3 L1104.6 280.4 L1108.9 320 L1113.2 303.9 L1118.6 402.5 L1127.1 352.1 L1132.5 363.9 L1136.8 351.1 L1142.1 365 L1146.4 390.7 L1150.7 344.6 L1155 350 L1160.4 369.3 L1164.6 314.6 L1168.9 341.4 L1172.9 302.4 L1177.6 295.7 L1183 271.9 L1188.1 303.3 L1192.5 259.5 L1197.6 281.4 L1201.4 245.2 L1206.2 164.3 L1211 239.5 L1215.7 273.8 L1220.5 279.5 L1225.2 299.5 L1230 286.2 L1234.8 285.2 L1239 249 L1243.9 266.2 L1250.7 368.6 L1256.4 440 L1262.1 462.9 L1266.4 502.9 L1270.7 503.4 L1280.1 495.7 L1289.3 511.4 L1294.4 510.6 L1299.3 522.9 L1303.6 522.3 L1308.7 524.3 L1312.7 510 L1317.9 472.9 L1322.1 495.7 L1330.7 491.4 L1336.4 495.5 L1340.7 489.5 L1345.5 480.6 L1350.2 483.2 L1355 490.9 L1359.8 490.9 L1364.5 481 L1369.3 454.3 L1373.1 412.4 L1377.3 396.2 L1382.6 414.3 L1387.4 413.3 L1391.2 367.6 L1396 356.2 L1400.7 375.2 L1405.9 379 L1409.3 388.6 L1418.8 401.9 L1423.6 397.1 L1428.3 399 L1433.1 380 L1438.8 379 L1447.4 381.9 L1455 427.6 L1456.9 446.7 L1460.7 469.5 L1462 471" fill="none" stroke="#d53d47" stroke-width="3.8" stroke-linejoin="round" stroke-linecap="round" clip-path="url(#below)"/>
<!-- baseline label -->
<rect x="22" y="571" width="90" height="36" fill="#fff" fill-opacity="0.92"/>
<text x="29.6" y="601.8" font-size="22.3" fill="#5a5f70" stroke="#5a5f70" stroke-width="0.3" letter-spacing="1.05">0.2049</text>
<!-- y labels -->
<g font-size="22.8" fill="#7c808c" stroke="#7c808c" stroke-width="0.25" letter-spacing="0.3">
<text x="1474" y="215.9">0.60</text>
<text x="1474" y="312.9">0.50</text>
<text x="1474" y="409.9">0.40</text>
<text x="1474" y="506.9">0.30</text>
<text x="1474" y="603.9">0.20</text>
<text x="1474" y="700.9">0.10</text>
</g>
<rect x="1461" y="442" width="66" height="49" rx="6" fill="#5dc385"/>
<text x="1474" y="476" font-size="23.5" fill="#fff" stroke="#fff" stroke-width="0.3" letter-spacing="0">0.33</text>
<text x="1488" y="795.7" font-size="23.5" font-weight="bold" fill="#7c808c">USD</text>
<g font-size="22.8" fill="#7c808c" stroke="#7c808c" stroke-width="0.25" letter-spacing="0">
<text x="18.5" y="833.5">8 Oct</text>
<text x="227.7" y="833.5">10 Oct</text>
<text x="449.6" y="833.5">12 Oct</text>
<text x="671.9" y="833.5">14 Oct</text>
<text x="894.7" y="833.5">16 Oct</text>
<text x="1116.8" y="833.5">18 Oct</text>
<text x="1339.2" y="833.5">20 Oct</text>
</g>
<polygon points="62.5,840.5 66,836 69.5,840.5" fill="#f3b66e"/>
<circle cx="1241.5" cy="841" r="2.6" fill="#a8946f"/>
<circle cx="1369" cy="841" r="2.6" fill="#4b4a8f"/>
</svg>
</body></html>
